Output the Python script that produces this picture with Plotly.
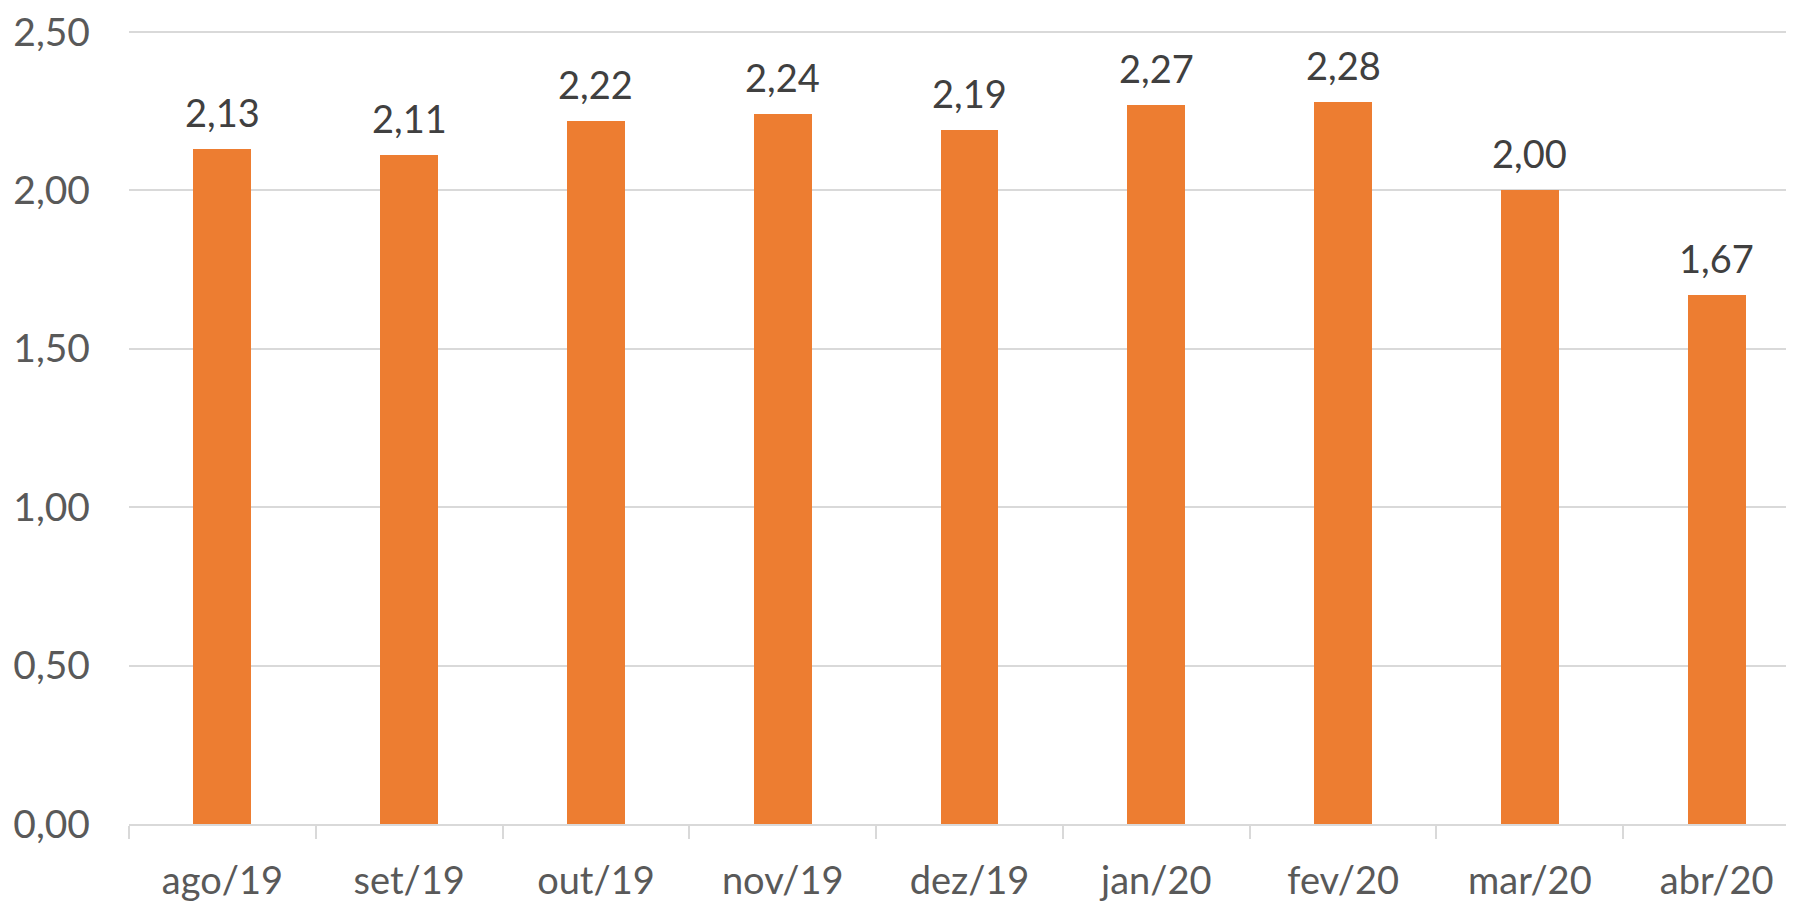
import plotly.graph_objects as go

categories = ["ago/19", "set/19", "out/19", "nov/19", "dez/19", "jan/20", "fev/20", "mar/20", "abr/20"]
values = [2.13, 2.11, 2.22, 2.24, 2.19, 2.27, 2.28, 2.00, 1.67]
y_ticks = [0.0, 0.5, 1.0, 1.5, 2.0, 2.5]

fmt = lambda v: f"{v:.2f}".replace(".", ",")

fig = go.Figure()
fig.add_trace(go.Bar(
    x=categories, y=values,
    marker=dict(color="#ED7D31", line=dict(width=0)),
    width=0.31,
    hoverinfo="skip",
))

for c, v in zip(categories, values):
    fig.add_annotation(x=c, y=v, text=fmt(v), showarrow=False,
                       yanchor="bottom", yshift=12,
                       font=dict(family="Lato", size=38, color="#404040"))

fig.update_layout(
    width=1794, height=901,
    margin=dict(l=121, r=0, t=19, b=85),
    paper_bgcolor="white", plot_bgcolor="white",
    showlegend=False,
    bargap=0,
    xaxis=dict(
        type="category",
        range=[-0.5, 8.457],
        showline=True, linecolor="#d9d9d9", linewidth=1.5,
        ticks="outside", tickson="boundaries", ticklen=13, tickcolor="#d9d9d9", tickwidth=1.5,
        showgrid=False,
        ticklabelstandoff=23,
        ticklabeloverflow="allow",
        tickfont=dict(family="Lato", size=38, color="#595959"),
    ),
    yaxis=dict(
        range=[0, 2.506],
        tickvals=y_ticks,
        ticktext=[fmt(v) for v in y_ticks],
        showgrid=True, gridcolor="#d9d9d9", gridwidth=1.5,
        zeroline=False, showline=False,
        ticks="", ticklabelstandoff=38,
        ticklabeloverflow="allow",
        tickfont=dict(family="Lato", size=39, color="#595959"),
    ),
)

fig.write_html("out.html")
